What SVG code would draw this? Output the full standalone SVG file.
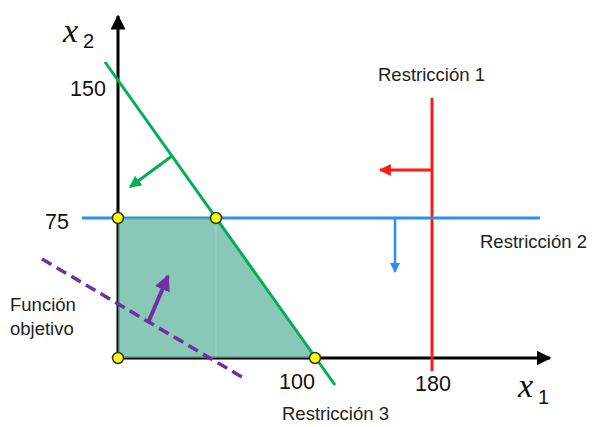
<svg xmlns="http://www.w3.org/2000/svg" width="592" height="427" viewBox="0 0 592 427">
<style>
.lbl{font-family:"Liberation Sans",Arial,sans-serif;font-size:18.5px;fill:#222}
.num{font-family:"Liberation Sans",Arial,sans-serif;font-size:21.5px;fill:#111}
.var{font-family:"Liberation Serif","Times New Roman",serif;font-style:italic;font-size:34px;fill:#111}
.sub{font-family:"Liberation Sans",Arial,sans-serif;font-size:20px;fill:#111}
.pt{fill:#ffff00;stroke:#333;stroke-width:1.5}
</style>
<defs>
<marker id="ab" viewBox="0 0 10 10" refX="9" refY="5" markerWidth="5" markerHeight="5" orient="auto" markerUnits="strokeWidth"><path d="M0,0L10,5L0,10z" fill="#000"/></marker>
<marker id="ar" viewBox="0 0 10 10" refX="9" refY="5" markerWidth="4" markerHeight="4" orient="auto" markerUnits="strokeWidth"><path d="M0,0L10,5L0,10z" fill="#ff1a1a"/></marker>
<marker id="au" viewBox="0 0 10 10" refX="9" refY="5" markerWidth="4" markerHeight="4" orient="auto" markerUnits="strokeWidth"><path d="M0,0L10,5L0,10z" fill="#2b8ff0"/></marker>
<marker id="ag" viewBox="0 0 10 10" refX="9" refY="5" markerWidth="4" markerHeight="4" orient="auto" markerUnits="strokeWidth"><path d="M0,0L10,5L0,10z" fill="#00b050"/></marker>
<marker id="ap" viewBox="0 0 10 10" refX="9" refY="5" markerWidth="4" markerHeight="4" orient="auto" markerUnits="strokeWidth"><path d="M0,0L10,5L0,10z" fill="#7030a0"/></marker>
</defs>

<g id="connectors">
<line x1="118" y1="360" x2="118" y2="16" stroke="#000" stroke-width="3" marker-end="url(#ab)"/>
<line x1="116" y1="358" x2="550" y2="358" stroke="#000" stroke-width="3" marker-end="url(#ab)"/>
<line x1="432" y1="98" x2="432" y2="371" stroke="#ff1a1a" stroke-width="3"/>
<line x1="432" y1="170" x2="380" y2="170" stroke="#ff1a1a" stroke-width="3" marker-end="url(#ar)"/>
<line x1="82" y1="218" x2="540" y2="218" stroke="#2b8ff0" stroke-width="3"/>
<line x1="395" y1="218" x2="395" y2="272" stroke="#2b8ff0" stroke-width="2.5" marker-end="url(#au)"/>
<polygon points="118,218 216,218 315,358 118,358" fill="#5bb39b" fill-opacity="0.72"/>
<line x1="216" y1="219" x2="216" y2="357" stroke="#ffffff" stroke-opacity="0.15" stroke-width="1.5"/>
<line x1="105" y1="62" x2="335" y2="385" stroke="#00b050" stroke-width="3"/>
<line x1="172" y1="156" x2="130" y2="187" stroke="#00b050" stroke-width="3" marker-end="url(#ag)"/>
<line x1="42" y1="259" x2="247" y2="380" stroke="#7030a0" stroke-width="3.5" stroke-dasharray="11,6"/>
<line x1="148" y1="323" x2="168" y2="276" stroke="#7030a0" stroke-width="4" marker-end="url(#ap)"/>
</g>

<g id="points">
<circle class="pt" cx="118" cy="218" r="5.5"/>
<circle class="pt" cx="216" cy="218" r="5.5"/>
<circle class="pt" cx="118" cy="358" r="5.5"/>
<circle class="pt" cx="315" cy="358" r="5.5"/>
</g>

<g id="labels">
<text class="var" x="63" y="42">x</text><text class="sub" x="83" y="48">2</text>
<text class="var" x="518" y="397">x</text><text class="sub" x="538" y="404">1</text>
<text class="num" x="70" y="96">150</text>
<text class="num" x="45" y="229">75</text>
<text class="num" x="279" y="389">100</text>
<text class="num" x="415" y="391">180</text>
<text class="lbl" x="378" y="81">Restricción 1</text>
<text class="lbl" x="480" y="248">Restricción 2</text>
<text class="lbl" x="282" y="420">Restricción 3</text>
<text class="lbl" x="10" y="311">Función</text>
<text class="lbl" x="10" y="335">objetivo</text>
</g>
</svg>
